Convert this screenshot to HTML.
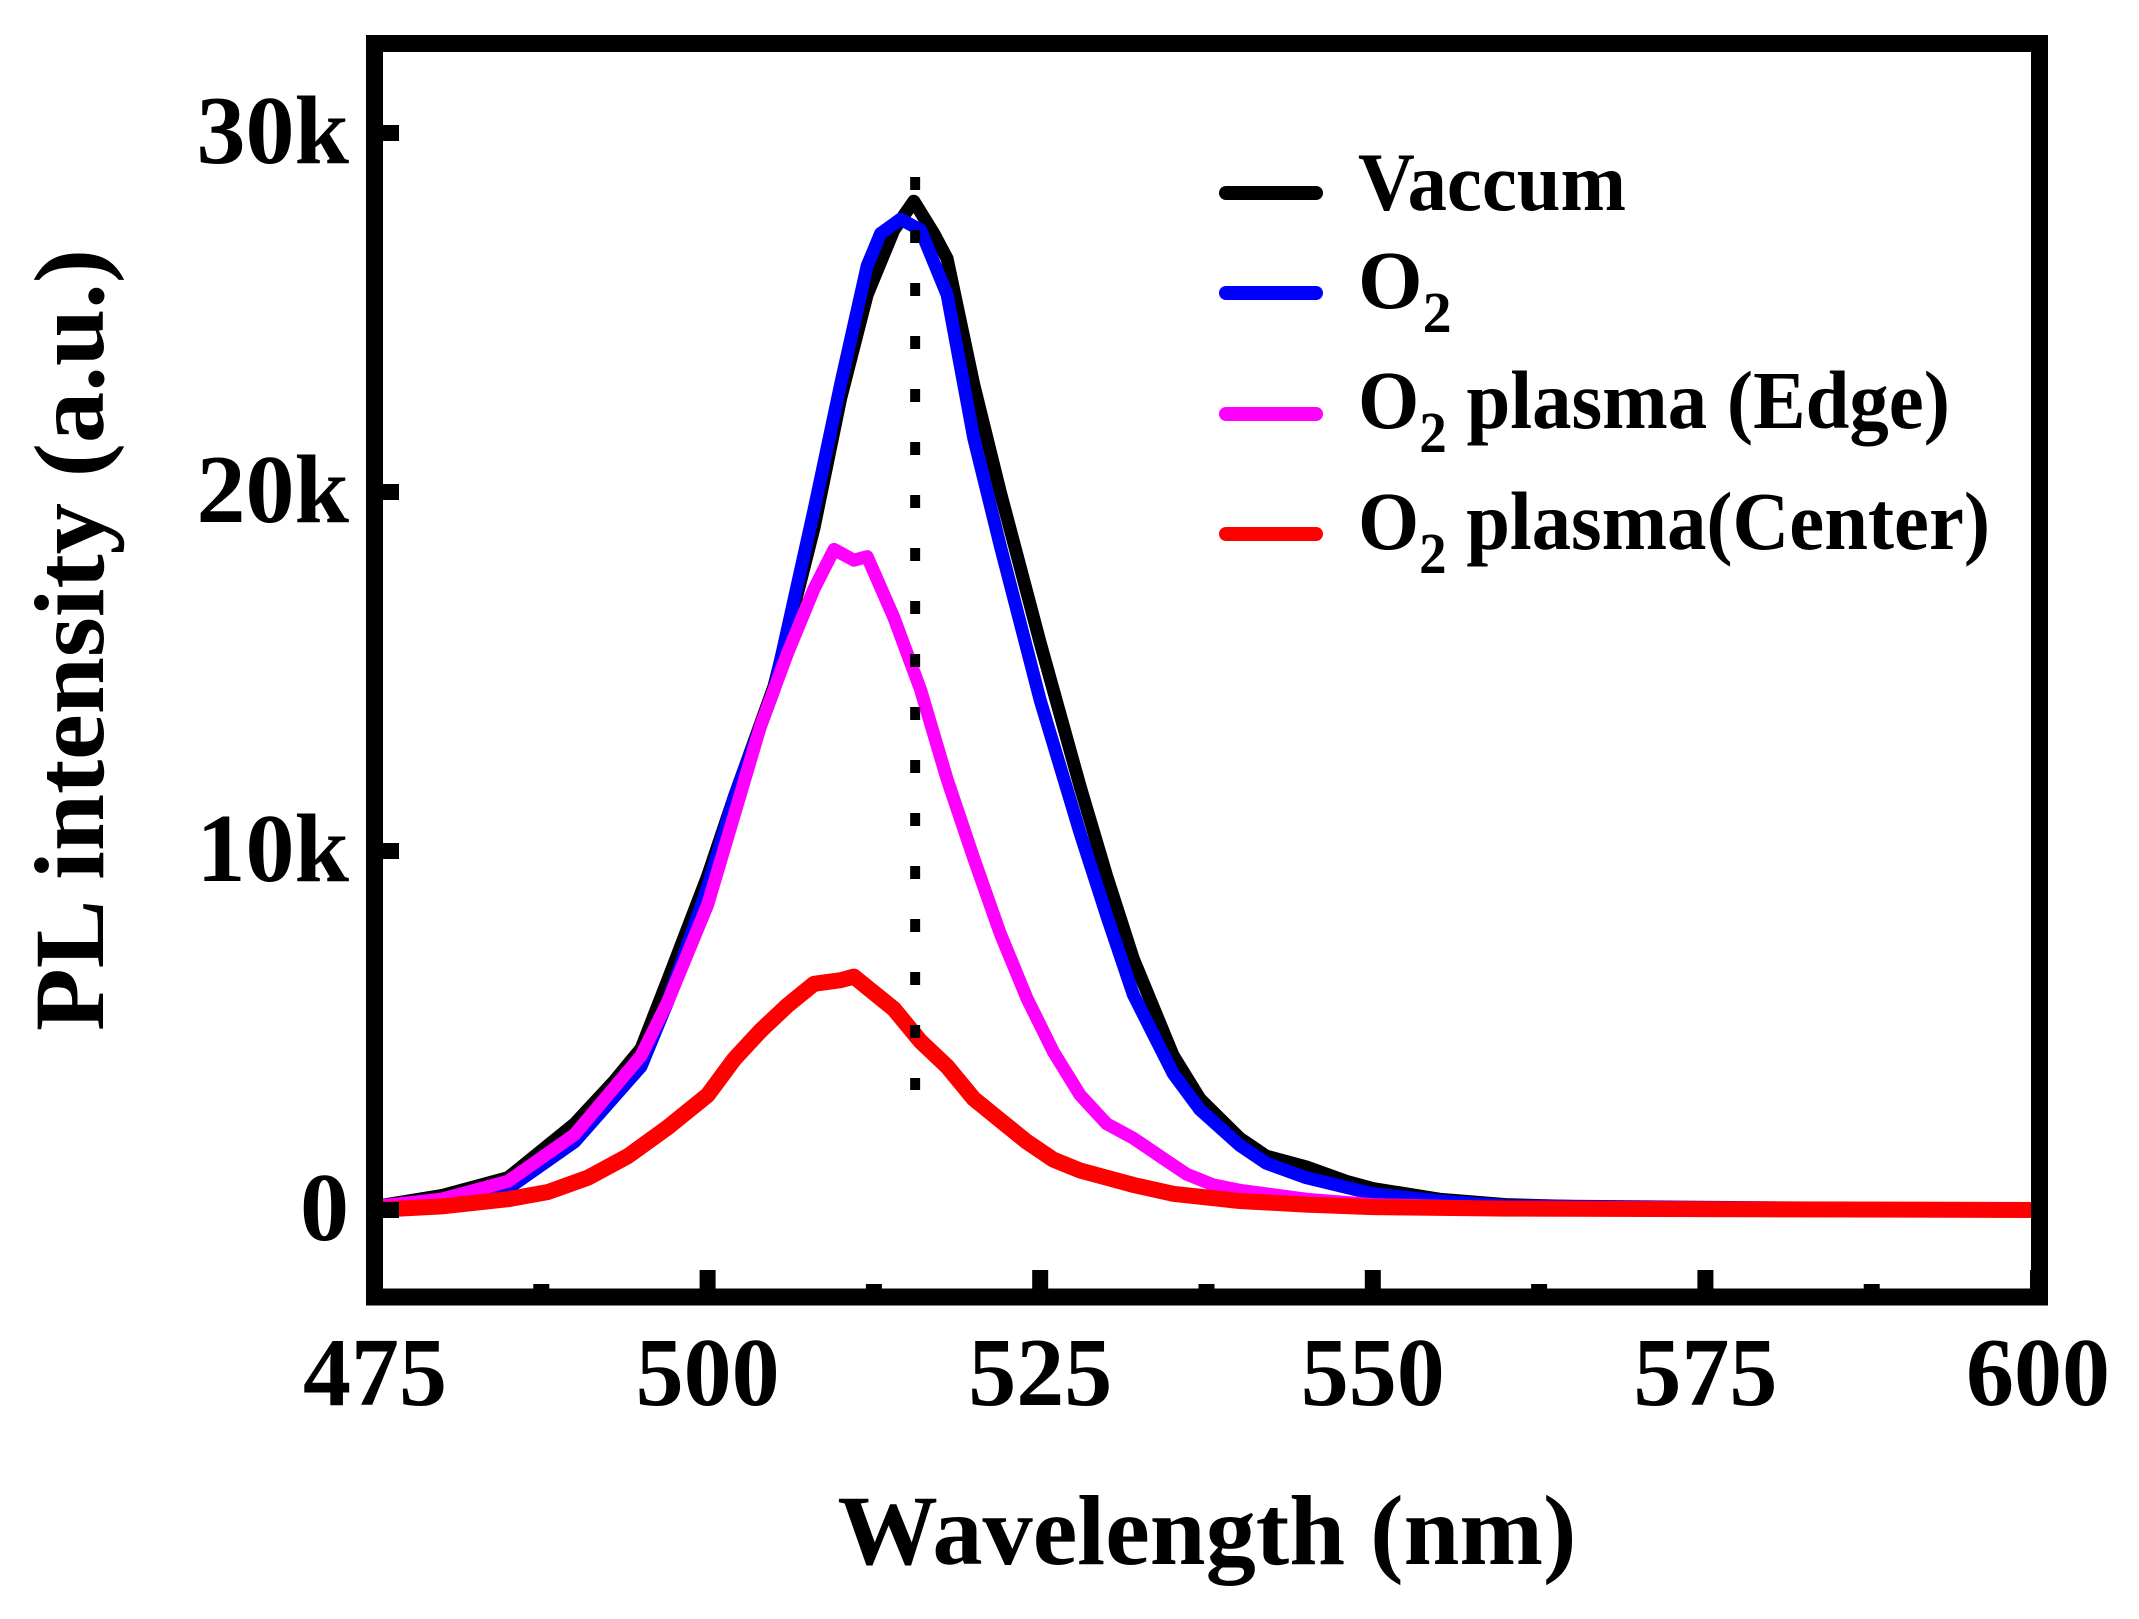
<!DOCTYPE html>
<html><head><meta charset="utf-8"><style>
html,body{margin:0;padding:0;background:#fff;}
svg{display:block;}
text{font-family:"Liberation Serif","Times New Roman",serif;font-weight:bold;fill:#000;}
</style></head><body>
<svg id="chart" width="2139" height="1619" viewBox="0 0 2139 1619" xmlns="http://www.w3.org/2000/svg">
<g id="series"></g>
<g id="frame"></g>
<g id="axes"></g>
<g id="legend"></g>
<text x="1207" y="1564" font-size="100" text-anchor="middle" textLength="739" lengthAdjust="spacingAndGlyphs">Wavelength (nm)</text>
<text transform="translate(103,640) rotate(-90)" font-size="100" text-anchor="middle" textLength="782" lengthAdjust="spacingAndGlyphs">PL intensity (a.u.)</text>
</svg>
<script>
const xTicks = [475, 500, 525, 550, 575, 600];
const xMinorTicks = [487.5, 512.5, 537.5, 562.5, 587.5];
const yTicks = [0, 10, 20, 30];
const yTickLabels = ["0", "10k", "20k", "30k"];
const peakMarker = 515.6;

const vacWl = [475,480,485,490,493,495,497,500,502,505,508,510,512,514,515.5,517,518,520,522,525,528,530,532,535,537,540,542,545,548,550,555,560,570,580,600];
const vacI  = [0.1,0.4,0.9,2.4,3.6,4.5,6.4,9.3,11.5,14.6,19,22.6,25.5,27.3,28.1,27.2,26.5,23,20,15.8,11.8,9.3,7.0,4.3,3.1,2.0,1.5,1.2,0.8,0.6,0.3,0.15,0.05,0.02,0];
const o2Wl = [475,480,485,490,495,497,500,502,505,508,510,512,513,514.5,516,518,520,522,525,528,530,532,535,537,540,542,545,550,555,560,600];
const o2I  = [0.1,0.3,0.6,1.9,4.0,5.8,9.0,11.5,14.5,19.5,23,26.3,27.2,27.6,27.3,25.5,21.5,18.5,14.2,10.5,8.2,6.0,3.8,2.8,1.8,1.3,0.9,0.45,0.25,0.12,0];
const edgeWl = [475,480,485,490,495,497,500,502,504,506,508,509.5,511,512,514,516,518,520,522,524,526,528,530,532,534,536,538,540,545,550,560,600];
const edgeI  = [0.1,0.3,0.8,2.1,4.3,5.8,8.5,11,13.5,15.5,17.3,18.4,18.1,18.2,16.5,14.5,12,9.8,7.7,5.9,4.4,3.2,2.4,2.0,1.5,1.0,0.7,0.55,0.3,0.15,0.06,0];
const centerWl = [475,480,485,488,491,494,497,500,502,504,506,508,510,511,512,514,516,518,520,522,524,526,528,530,532,535,540,545,550,560,600];
const centerI  = [0,0.1,0.3,0.5,0.9,1.5,2.3,3.2,4.2,5.0,5.7,6.3,6.4,6.5,6.2,5.6,4.7,4.0,3.1,2.5,1.9,1.4,1.1,0.9,0.7,0.45,0.25,0.15,0.08,0.04,0];

const legendLabels = ["Vaccum", "O2", "O2 plasma (Edge)", "O2 plasma(Center)"];

const NS = "http://www.w3.org/2000/svg";
const X0 = 375, X1 = 2038, Y0 = 1210, Y30 = 133;
function xs(w){ return X0 + (w - 475) / 125 * (X1 - X0); }
function ys(v){ return Y0 + v / 30 * (Y30 - Y0); }
function mk(tag, attrs, parent){
  const e = document.createElementNS(NS, tag);
  for (const k in attrs) e.setAttribute(k, attrs[k]);
  parent.appendChild(e);
  return e;
}

const series = document.getElementById('series');
const seriesDefs = [
  {wl: vacWl, v: vacI, color: '#000000', w: 13, name: 'vaccum-line'},
  {wl: o2Wl, v: o2I, color: '#0000ff', w: 13, name: 'o2-line'},
  {wl: edgeWl, v: edgeI, color: '#ff00ff', w: 13, name: 'o2-plasma-edge-line'},
  {wl: centerWl, v: centerI, color: '#ff0000', w: 16, name: 'o2-plasma-center-line'}
];
seriesDefs.forEach(s => {
  const d = s.wl.map((w, i) => (i ? 'L' : 'M') + xs(w).toFixed(1) + ',' + ys(s.v[i]).toFixed(1)).join(' ');
  const p = mk('path', {d: d, fill: 'none', stroke: s.color, 'stroke-width': s.w, 'stroke-linejoin': 'round'}, series);
  
  
});
const dl = mk('line', {x1: xs(peakMarker), x2: xs(peakMarker), y1: 177, y2: 1090, stroke: '#000', 'stroke-width': 10, 'stroke-dasharray': '13 40'}, series);



const frame = document.getElementById('frame');
const fr = mk('rect', {x: 374.5, y: 43.5, width: 2039.5 - 374.5, height: 1297 - 43.5, fill: 'none', stroke: '#000', 'stroke-width': 17}, frame);



const axes = document.getElementById('axes');
xTicks.forEach(t => {
  const tk = mk('rect', {x: xs(t) - 8, y: 1270, width: 16, height: 20, fill: '#000'}, axes);
  
  
  const lb = mk('text', {x: xs(t), y: 1405, 'font-size': 98, 'text-anchor': 'middle', textLength: 144, lengthAdjust: 'spacingAndGlyphs'}, axes);
  lb.textContent = String(t);
  
  
});
xMinorTicks.forEach(t => {
  const tk = mk('rect', {x: xs(t) - 8, y: 1284, width: 16, height: 6, fill: '#000'}, axes);
  
  
});
yTicks.forEach((t, i) => {
  const tk = mk('rect', {x: 380, y: ys(t) - 8, width: 19, height: 16, fill: '#000'}, axes);
  
  
  const lb = mk('text', {x: 349, y: ys(t) + 30, 'font-size': 98, 'text-anchor': 'end'}, axes);
  lb.textContent = yTickLabels[i];
  
  
});

const legend = document.getElementById('legend');
const legY = [193, 293, 414, 534];
const legBase = [210, 308, 428, 549];
const legLen = [268, 0, 592, 632];
legendLabels.forEach((lab, i) => {
  const ln = mk('line', {x1: 1226, x2: 1316, y1: legY[i], y2: legY[i], stroke: seriesDefs[i].color, 'stroke-width': 14, 'stroke-linecap': 'round'}, legend);
  
  
  const tx = mk('text', {x: 1358, y: legBase[i], 'font-size': 83}, legend);
  
  
  if (lab.startsWith('O2')) {
    const a = document.createElementNS(NS, 'tspan'); a.textContent = 'O'; tx.appendChild(a);
    const b = document.createElementNS(NS, 'tspan'); b.textContent = '2'; b.setAttribute('font-size', '58'); b.setAttribute('dy', '24'); tx.appendChild(b);
    const rest = lab.slice(2);
    if (rest) { const c = document.createElementNS(NS, 'tspan'); c.textContent = rest; c.setAttribute('dy', '-24'); tx.appendChild(c); }
  } else {
    tx.textContent = lab;
  }
  if (legLen[i]) { tx.setAttribute('textLength', legLen[i]); tx.setAttribute('lengthAdjust', 'spacingAndGlyphs'); }
});
</script>
</body></html>
